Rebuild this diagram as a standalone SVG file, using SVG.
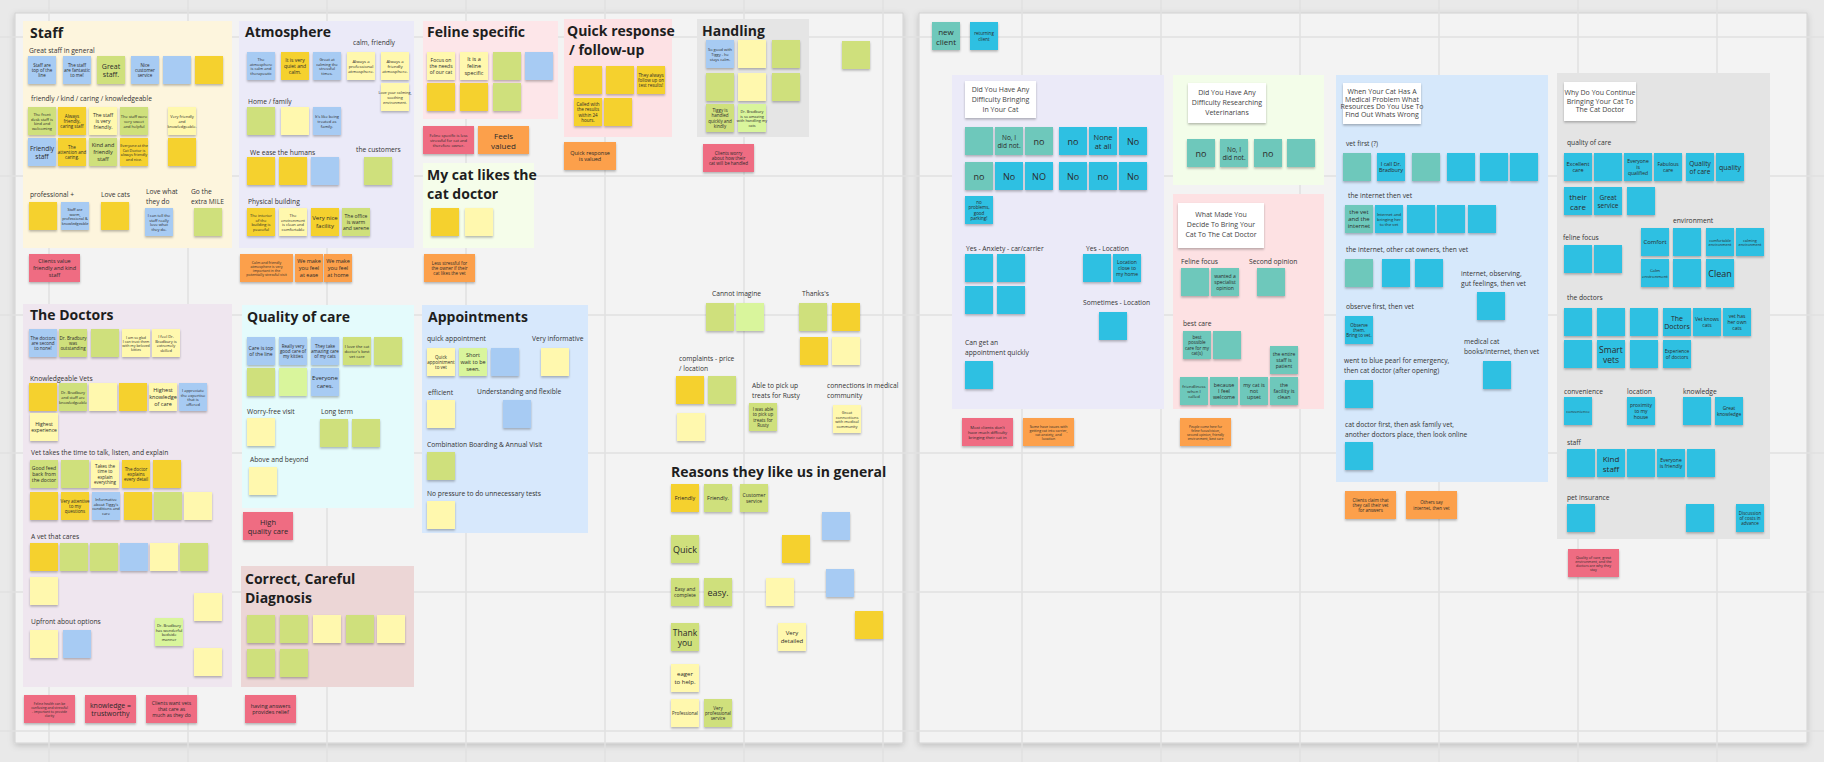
<svg xmlns="http://www.w3.org/2000/svg" width="1824" height="762" viewBox="0 0 1824 762">
<defs>
<filter id="sh" x="-20%" y="-20%" width="140%" height="150%"><feDropShadow dx="0" dy="1.5" stdDeviation="1" flood-color="#000" flood-opacity="0.28"/></filter>
<filter id="fsh" x="-5%" y="-5%" width="110%" height="110%"><feDropShadow dx="0" dy="2" stdDeviation="3" flood-color="#000" flood-opacity="0.18"/></filter>
<style>
.s{filter:url(#sh)}
.y{fill:#fff8ae}.d{fill:#f5d12f}.g{fill:#cfe07c}.l{fill:#d9f59c}.b{fill:#a7cbf3}
.o{fill:#fca04b}.p{fill:#ef6c82}.t{fill:#6ec8bb}.c{fill:#2fc0e2}.w{fill:#ffffff}
text{font-family:"Open Sans","Liberation Sans",sans-serif}
.tt{font-size:14px;font-weight:700;fill:#1e1e1e}
.h{font-size:6.7px;fill:#333}
.n{text-anchor:middle;dominant-baseline:central;fill:#2a2a2a}
.q{text-anchor:middle;font-size:7px;fill:#444}
.grid line{stroke:#e0e0e0;stroke-width:1.5}
</style>
</defs>
<rect width="1824" height="762" fill="#e9e9e9"/>
<g id="boards">
<rect x="15" y="13" width="888" height="730" fill="#f3f3f3" stroke="#d2d2d2" filter="url(#fsh)"/>
<rect x="919" y="13" width="888" height="730" fill="#f3f3f3" stroke="#d2d2d2" filter="url(#fsh)"/>
</g>
<g class="grid">
<line x1="49" y1="0" x2="49" y2="762"/><line x1="188" y1="0" x2="188" y2="762"/><line x1="327" y1="0" x2="327" y2="762"/><line x1="466" y1="0" x2="466" y2="762"/><line x1="605" y1="0" x2="605" y2="762"/><line x1="744" y1="0" x2="744" y2="762"/><line x1="883" y1="0" x2="883" y2="762"/><line x1="1022" y1="0" x2="1022" y2="762"/><line x1="1161" y1="0" x2="1161" y2="762"/><line x1="1300" y1="0" x2="1300" y2="762"/><line x1="1439" y1="0" x2="1439" y2="762"/><line x1="1578" y1="0" x2="1578" y2="762"/><line x1="1717" y1="0" x2="1717" y2="762"/>
<line x1="0" y1="37" x2="1824" y2="37"/><line x1="0" y1="176" x2="1824" y2="176"/><line x1="0" y1="315" x2="1824" y2="315"/><line x1="0" y1="453" x2="1824" y2="453"/><line x1="0" y1="592" x2="1824" y2="592"/><line x1="0" y1="731" x2="1824" y2="731"/>
</g>
<g id="connectors"></g>

<!-- STAFF -->
<g id="staff">
<rect x="23" y="21" width="209" height="227" fill="#fdf5dd"/>
<text class="tt" x="30" y="38">Staff</text>
<text class="h" x="29" y="53">Great staff in general</text>
<rect class="s b" x="28" y="56" width="28" height="28"/><rect class="s b" x="63" y="56" width="28" height="28"/><rect class="s g" x="97" y="56" width="28" height="28"/><rect class="s b" x="131" y="56" width="28" height="28"/><rect class="s b" x="163" y="56" width="28" height="28"/><rect class="s d" x="195" y="56" width="28" height="28"/>
<text class="n" x="42" y="64.6" font-size="4.5"><tspan x="42">Staff are</tspan><tspan x="42" dy="5.4">top of the</tspan><tspan x="42" dy="5.4">line</tspan></text>
<text class="n" x="77" y="64.6" font-size="4.5"><tspan x="77">The staff</tspan><tspan x="77" dy="5.4">are fantastic</tspan><tspan x="77" dy="5.4">to me!</tspan></text>
<text class="n" x="111" y="65.8" font-size="7"><tspan x="111">Great</tspan><tspan x="111" dy="8.4">staff.</tspan></text>
<text class="n" x="145" y="64.6" font-size="4.5"><tspan x="145">Nice</tspan><tspan x="145" dy="5.4">customer</tspan><tspan x="145" dy="5.4">service</tspan></text>
<text class="h" x="31" y="101">friendly / kind / caring / knowledgeable</text>
<rect class="s g" x="28" y="107" width="28" height="28"/><rect class="s d" x="58" y="107" width="28" height="28"/><rect class="s y" x="89" y="107" width="28" height="28"/><rect class="s g" x="120" y="107" width="28" height="28"/><rect class="s y" x="168" y="107" width="28" height="28"/>
<text class="n" x="42" y="113.8" font-size="4"><tspan x="42">The front</tspan><tspan x="42" dy="4.8">desk staff is</tspan><tspan x="42" dy="4.8">kind and</tspan><tspan x="42" dy="4.8">welcoming</tspan></text>
<text class="n" x="72" y="115.6" font-size="4.5"><tspan x="72">Always</tspan><tspan x="72" dy="5.4">friendly,</tspan><tspan x="72" dy="5.4">caring staff</tspan></text>
<text class="n" x="103" y="115" font-size="5"><tspan x="103">The staff</tspan><tspan x="103" dy="6">is very</tspan><tspan x="103" dy="6">friendly.</tspan></text>
<text class="n" x="134" y="116.2" font-size="4"><tspan x="134">The staff were</tspan><tspan x="134" dy="4.8">very sweet</tspan><tspan x="134" dy="4.8">and helpful</tspan></text>
<text class="n" x="182" y="116.2" font-size="4"><tspan x="182">Very friendly</tspan><tspan x="182" dy="4.8">and</tspan><tspan x="182" dy="4.8">knowledgeable.</tspan></text>
<rect class="s b" x="28" y="138" width="28" height="28"/><rect class="s d" x="58" y="138" width="28" height="28"/><rect class="s g" x="89" y="138" width="28" height="28"/><rect class="s d" x="120" y="138" width="28" height="28"/><rect class="s d" x="168" y="138" width="28" height="28"/>
<text class="n" x="42" y="148.1" font-size="6.5"><tspan x="42">Friendly</tspan><tspan x="42" dy="7.8">staff</tspan></text>
<text class="n" x="72" y="146.6" font-size="4.5"><tspan x="72">The</tspan><tspan x="72" dy="5.4">attention and</tspan><tspan x="72" dy="5.4">caring.</tspan></text>
<text class="n" x="103" y="145.4" font-size="5.5"><tspan x="103">Kind and</tspan><tspan x="103" dy="6.6">friendly</tspan><tspan x="103" dy="6.6">staff</tspan></text>
<text class="n" x="134" y="145.1" font-size="3.8"><tspan x="134">Everyone at the</tspan><tspan x="134" dy="4.6">Cat Doctor is</tspan><tspan x="134" dy="4.6">always friendly</tspan><tspan x="134" dy="4.6">and nice.</tspan></text>
<text class="h" x="30" y="197">professional +</text>
<text class="h" x="101" y="197">Love cats</text>
<text class="h" x="146" y="194"><tspan x="146">Love what</tspan><tspan x="146" dy="9.5">they do</tspan></text>
<text class="h" x="191" y="194"><tspan x="191">Go the</tspan><tspan x="191" dy="9.5">extra MILE</tspan></text>
<rect class="s d" x="29" y="202" width="28" height="28"/><rect class="s b" x="61" y="202" width="28" height="28"/><rect class="s d" x="101" y="202" width="28" height="28"/><rect class="s b" x="145" y="208" width="28" height="28"/><rect class="s g" x="194" y="208" width="28" height="28"/>
<text class="n" x="75" y="209.1" font-size="3.8"><tspan x="75">Staff are</tspan><tspan x="75" dy="4.6">warm,</tspan><tspan x="75" dy="4.6">professional &amp;</tspan><tspan x="75" dy="4.6">knowledgeable</tspan></text>
<text class="n" x="159" y="214.8" font-size="4"><tspan x="159">I can tell the</tspan><tspan x="159" dy="4.8">staff really</tspan><tspan x="159" dy="4.8">love what</tspan><tspan x="159" dy="4.8">they do.</tspan></text>
<rect class="s p" x="29" y="254" width="51" height="28"/>
<text class="n" x="54.5" y="261.4" font-size="5.5"><tspan x="54.5">Clients value</tspan><tspan x="54.5" dy="6.6">friendly and kind</tspan><tspan x="54.5" dy="6.6">staff</tspan></text>
</g>

<!-- ATMOSPHERE -->
<g id="atmosphere">
<rect x="239" y="21" width="175" height="227" fill="#ebeaf8"/>
<text class="tt" x="245" y="37">Atmosphere</text>
<text class="h" x="353" y="45">calm, friendly</text>
<rect class="s b" x="247" y="52" width="28" height="28"/><rect class="s d" x="281" y="52" width="28" height="28"/><rect class="s b" x="313" y="52" width="28" height="28"/><rect class="s y" x="347" y="52" width="28" height="28"/><rect class="s y" x="381" y="52" width="28" height="28"/><rect class="s y" x="381" y="83" width="28" height="28"/>
<text class="n" x="261" y="58.8" font-size="4"><tspan x="261">The</tspan><tspan x="261" dy="4.8">atmosphere</tspan><tspan x="261" dy="4.8">is calm and</tspan><tspan x="261" dy="4.8">therapeutic</tspan></text>
<text class="n" x="295" y="60" font-size="5"><tspan x="295">It is very</tspan><tspan x="295" dy="6">quiet and</tspan><tspan x="295" dy="6">calm.</tspan></text>
<text class="n" x="327" y="58.8" font-size="4"><tspan x="327">Great at</tspan><tspan x="327" dy="4.8">calming the</tspan><tspan x="327" dy="4.8">stressful</tspan><tspan x="327" dy="4.8">times.</tspan></text>
<text class="n" x="361" y="60.6" font-size="4.3"><tspan x="361">Always a</tspan><tspan x="361" dy="5.4">professional</tspan><tspan x="361" dy="5.4">atmosphere.</tspan></text>
<text class="n" x="395" y="60.6" font-size="4.3"><tspan x="395">Always a</tspan><tspan x="395" dy="5.4">friendly</tspan><tspan x="395" dy="5.4">atmosphere.</tspan></text>
<text class="n" x="395" y="92.4" font-size="3.8"><tspan x="395">Love your calming,</tspan><tspan x="395" dy="4.6">soothing</tspan><tspan x="395" dy="4.6">environment.</tspan></text>
<text class="h" x="248" y="104">Home / family</text>
<rect class="s g" x="247" y="107" width="28" height="28"/><rect class="s y" x="281" y="107" width="28" height="28"/><rect class="s b" x="313" y="107" width="28" height="28"/>
<text class="n" x="327" y="116.2" font-size="4"><tspan x="327">It's like being</tspan><tspan x="327" dy="4.8">treated as</tspan><tspan x="327" dy="4.8">family.</tspan></text>
<text class="h" x="250" y="155">We ease the humans</text>
<text class="h" x="356" y="152">the customers</text>
<rect class="s d" x="247" y="157" width="28" height="28"/><rect class="s d" x="279" y="157" width="28" height="28"/><rect class="s b" x="311" y="157" width="28" height="28"/><rect class="s g" x="364" y="157" width="28" height="28"/>
<text class="h" x="248" y="204">Physical building</text>
<rect class="s d" x="247" y="208" width="28" height="28"/><rect class="s y" x="279" y="208" width="28" height="28"/><rect class="s d" x="311" y="208" width="28" height="28"/><rect class="s g" x="342" y="208" width="28" height="28"/>
<text class="n" x="261" y="214.8" font-size="4"><tspan x="261">The interior</tspan><tspan x="261" dy="4.8">of the</tspan><tspan x="261" dy="4.8">building is</tspan><tspan x="261" dy="4.8">peaceful</tspan></text>
<text class="n" x="293" y="214.8" font-size="4"><tspan x="293">The</tspan><tspan x="293" dy="4.8">environment</tspan><tspan x="293" dy="4.8">is clean and</tspan><tspan x="293" dy="4.8">comfortable</tspan></text>
<text class="n" x="325" y="218.4" font-size="6"><tspan x="325">Very nice</tspan><tspan x="325" dy="7.2">facility</tspan></text>
<text class="n" x="356" y="216" font-size="5"><tspan x="356">The office</tspan><tspan x="356" dy="6">is warm</tspan><tspan x="356" dy="6">and serene</tspan></text>
<rect class="s o" x="240" y="254" width="53" height="28"/><rect class="s o" x="295" y="254" width="28" height="28"/><rect class="s o" x="324" y="254" width="28" height="28"/>
<text class="n" x="266.5" y="261.55" font-size="3.6"><tspan x="266.5">Calm and friendly</tspan><tspan x="266.5" dy="4.3">atmosphere is very</tspan><tspan x="266.5" dy="4.3">important in the</tspan><tspan x="266.5" dy="4.3">potentially stressful visit</tspan></text>
<text class="n" x="309" y="261.4" font-size="5.5"><tspan x="309">We make</tspan><tspan x="309" dy="6.6">you feel</tspan><tspan x="309" dy="6.6">at ease</tspan></text>
<text class="n" x="338" y="261.4" font-size="5.5"><tspan x="338">We make</tspan><tspan x="338" dy="6.6">you feel</tspan><tspan x="338" dy="6.6">at home</tspan></text>
</g>

<!-- FELINE SPECIFIC -->
<g id="feline-specific">
<rect x="423" y="21" width="135" height="98" fill="#fde6e9"/>
<text class="tt" x="427" y="37">Feline specific</text>
<rect class="s y" x="427" y="52" width="28" height="28"/><rect class="s y" x="460" y="52" width="28" height="28"/><rect class="s g" x="493" y="52" width="28" height="28"/><rect class="s b" x="525" y="52" width="28" height="28"/>
<rect class="s d" x="427" y="83" width="28" height="28"/><rect class="s d" x="460" y="83" width="28" height="28"/><rect class="s g" x="493" y="83" width="28" height="28"/>
<text class="n" x="441" y="60" font-size="5"><tspan x="441">Focus on</tspan><tspan x="441" dy="6">the needs</tspan><tspan x="441" dy="6">of our cat</tspan></text>
<text class="n" x="474" y="59.4" font-size="5.5"><tspan x="474">It is a</tspan><tspan x="474" dy="6.6">feline</tspan><tspan x="474" dy="6.6">specific</tspan></text>
<rect class="s p" x="423" y="126" width="51" height="28"/><rect class="s o" x="478" y="126" width="51" height="28"/>
<text class="n" x="448.5" y="135.2" font-size="4"><tspan x="448.5">Feline specific is less</tspan><tspan x="448.5" dy="4.8">stressful for cat and</tspan><tspan x="448.5" dy="4.8">therefore owner.</tspan></text>
<text class="n" x="503.5" y="135.2" font-size="8"><tspan x="503.5">Feels</tspan><tspan x="503.5" dy="9.6">valued</tspan></text>
</g>

<!-- MY CAT LIKES -->
<g id="my-cat-likes">
<rect x="423" y="163" width="111" height="85" fill="#f5fdea"/>
<text class="tt" x="427" y="180"><tspan x="427">My cat likes the</tspan><tspan x="427" dy="19">cat doctor</tspan></text>
<rect class="s d" x="431" y="208" width="28" height="28"/><rect class="s y" x="465" y="208" width="28" height="28"/>
<rect class="s o" x="424" y="254" width="51" height="28"/>
<text class="n" x="449.5" y="262.6" font-size="4.5"><tspan x="449.5">Less stressful for</tspan><tspan x="449.5" dy="5.4">the owner if their</tspan><tspan x="449.5" dy="5.4">cat likes the vet</tspan></text>
</g>

<!-- QUICK RESPONSE -->
<g id="quick-response">
<rect x="564" y="19" width="108" height="118" fill="#fde1e4"/>
<text class="tt" x="567" y="36">Quick response</text>
<text class="tt" x="569" y="55">/ follow-up</text>
<rect class="s d" x="574" y="66" width="28" height="28"/><rect class="s d" x="606" y="66" width="28" height="28"/><rect class="s d" x="637" y="66" width="28" height="28"/>
<rect class="s d" x="574" y="98" width="28" height="28"/><rect class="s d" x="604" y="98" width="28" height="28"/>
<text class="n" x="651" y="74.6" font-size="4.5"><tspan x="651">They always</tspan><tspan x="651" dy="5.4">follow up on</tspan><tspan x="651" dy="5.4">test results!</tspan></text>
<text class="n" x="588" y="103.9" font-size="4.5"><tspan x="588">Called with</tspan><tspan x="588" dy="5.4">the results</tspan><tspan x="588" dy="5.4">within 24</tspan><tspan x="588" dy="5.4">hours.</tspan></text>
<rect class="s o" x="564" y="142" width="52" height="28"/>
<text class="n" x="590" y="152.7" font-size="5.5"><tspan x="590">Quick response</tspan><tspan x="590" dy="6.6">is valued</tspan></text>
</g>

<!-- HANDLING -->
<g id="handling">
<rect x="697" y="19" width="112" height="118" fill="#e5e5e5"/>
<text class="tt" x="702" y="36">Handling</text>
<rect class="s b" x="706" y="40" width="28" height="28"/><rect class="s y" x="738" y="40" width="28" height="28"/><rect class="s g" x="772" y="40" width="28" height="28"/>
<rect class="s g" x="706" y="73" width="28" height="28"/><rect class="s y" x="738" y="73" width="28" height="28"/><rect class="s g" x="772" y="73" width="28" height="28"/>
<rect class="s g" x="706" y="104" width="28" height="28"/><rect class="s l" x="738" y="104" width="28" height="28"/>
<text class="n" x="720" y="49.2" font-size="4"><tspan x="720">So good with</tspan><tspan x="720" dy="4.8">Tiggy - he</tspan><tspan x="720" dy="4.8">stays calm.</tspan></text>
<text class="n" x="720" y="109.9" font-size="4.5"><tspan x="720">Tiggy is</tspan><tspan x="720" dy="5.4">handled</tspan><tspan x="720" dy="5.4">quickly and</tspan><tspan x="720" dy="5.4">kindly</tspan></text>
<text class="n" x="752" y="111.1" font-size="3.8"><tspan x="752">Dr. Bradbury</tspan><tspan x="752" dy="4.6">is so amazing</tspan><tspan x="752" dy="4.6">with handling my</tspan><tspan x="752" dy="4.6">cats</tspan></text>
<rect class="s p" x="703" y="144" width="51" height="28"/>
<text class="n" x="728.5" y="152.6" font-size="4.5"><tspan x="728.5">Clients worry</tspan><tspan x="728.5" dy="5.4">about how their</tspan><tspan x="728.5" dy="5.4">cat will be handled</tspan></text>
<rect class="s g" x="842" y="41" width="28" height="28"/>
</g>

<!-- THE DOCTORS -->
<g id="the-doctors">
<rect x="23" y="304" width="209" height="383" fill="#efe6ef"/>
<text class="tt" x="30" y="320">The Doctors</text>
<rect class="s b" x="29" y="329" width="28" height="28"/><rect class="s g" x="59" y="329" width="28" height="28"/><rect class="s g" x="91" y="329" width="28" height="28"/><rect class="s y" x="122" y="329" width="28" height="28"/><rect class="s y" x="152" y="329" width="28" height="28"/>
<text class="n" x="43" y="337.6" font-size="4.5"><tspan x="43">The doctors</tspan><tspan x="43" dy="5.4">are second</tspan><tspan x="43" dy="5.4">to none!</tspan></text>
<text class="n" x="73" y="337.6" font-size="4.5"><tspan x="73">Dr. Bradbury</tspan><tspan x="73" dy="5.4">was</tspan><tspan x="73" dy="5.4">outstanding</tspan></text>
<text class="n" x="136" y="336.55" font-size="3.6"><tspan x="136">I am so glad</tspan><tspan x="136" dy="4.3">I can trust them</tspan><tspan x="136" dy="4.3">with my beloved</tspan><tspan x="136" dy="4.3">kitties</tspan></text>
<text class="n" x="166" y="335.8" font-size="4"><tspan x="166">I feel Dr.</tspan><tspan x="166" dy="4.8">Bradbury is</tspan><tspan x="166" dy="4.8">extremely</tspan><tspan x="166" dy="4.8">skilled</tspan></text>
<text class="h" x="30" y="381">Knowledgeable Vets</text>
<rect class="s d" x="29" y="383" width="28" height="28"/><rect class="s g" x="59" y="383" width="28" height="28"/><rect class="s y" x="89" y="383" width="28" height="28"/><rect class="s d" x="119" y="383" width="28" height="28"/><rect class="s y" x="149" y="383" width="28" height="28"/><rect class="s b" x="179" y="383" width="28" height="28"/>
<text class="n" x="73" y="392.2" font-size="4"><tspan x="73">Dr. Bradbury</tspan><tspan x="73" dy="4.8">and staff are</tspan><tspan x="73" dy="4.8">knowledgeable</tspan></text>
<text class="n" x="163" y="390.4" font-size="5.5"><tspan x="163">Highest</tspan><tspan x="163" dy="6.6">knowledge</tspan><tspan x="163" dy="6.6">of care</tspan></text>
<text class="n" x="193" y="389.8" font-size="4"><tspan x="193">I appreciate</tspan><tspan x="193" dy="4.8">the expertise</tspan><tspan x="193" dy="4.8">that is</tspan><tspan x="193" dy="4.8">offered</tspan></text>
<rect class="s y" x="30" y="413" width="28" height="28"/>
<text class="n" x="44" y="424" font-size="5"><tspan x="44">Highest</tspan><tspan x="44" dy="6">experience</tspan></text>
<text class="h" x="31" y="455">Vet takes the time to talk, listen, and explain</text>
<rect class="s g" x="30" y="460" width="28" height="28"/><rect class="s g" x="61" y="460" width="28" height="28"/><rect class="s y" x="91" y="460" width="28" height="28"/><rect class="s d" x="122" y="460" width="28" height="28"/><rect class="s d" x="153" y="460" width="28" height="28"/>
<text class="n" x="44" y="468" font-size="5"><tspan x="44">Good feed</tspan><tspan x="44" dy="6">back from</tspan><tspan x="44" dy="6">the doctor</tspan></text>
<text class="n" x="105" y="465.9" font-size="4.5"><tspan x="105">Takes the</tspan><tspan x="105" dy="5.4">time to</tspan><tspan x="105" dy="5.4">explain</tspan><tspan x="105" dy="5.4">everything</tspan></text>
<text class="n" x="136" y="468.6" font-size="4.5"><tspan x="136">The doctor</tspan><tspan x="136" dy="5.4">explains</tspan><tspan x="136" dy="5.4">every detail</tspan></text>
<rect class="s d" x="30" y="492" width="28" height="28"/><rect class="s d" x="61" y="492" width="28" height="28"/><rect class="s b" x="92" y="492" width="28" height="28"/><rect class="s d" x="124" y="492" width="28" height="28"/><rect class="s g" x="154" y="492" width="28" height="28"/><rect class="s y" x="184" y="492" width="28" height="28"/>
<text class="n" x="75" y="500.6" font-size="4.5"><tspan x="75">Very attentive</tspan><tspan x="75" dy="5.4">to my</tspan><tspan x="75" dy="5.4">questions</tspan></text>
<text class="n" x="106" y="498.8" font-size="4"><tspan x="106">Informative</tspan><tspan x="106" dy="4.8">about Tiggy's</tspan><tspan x="106" dy="4.8">conditions and</tspan><tspan x="106" dy="4.8">care</tspan></text>
<text class="h" x="31" y="539">A vet that cares</text>
<rect class="s d" x="30" y="543" width="28" height="28"/><rect class="s g" x="60" y="543" width="28" height="28"/><rect class="s g" x="90" y="543" width="28" height="28"/><rect class="s b" x="120" y="543" width="28" height="28"/><rect class="s y" x="150" y="543" width="28" height="28"/><rect class="s g" x="180" y="543" width="28" height="28"/>
<rect class="s y" x="30" y="577" width="28" height="28"/><rect class="s y" x="194" y="593" width="28" height="28"/>
<text class="h" x="31" y="624">Upfront about options</text>
<rect class="s y" x="30" y="630" width="28" height="28"/><rect class="s b" x="63" y="630" width="28" height="28"/><rect class="s l" x="155" y="618" width="28" height="28"/><rect class="s y" x="194" y="648" width="28" height="28"/>
<text class="n" x="169" y="624.8" font-size="4"><tspan x="169">Dr. Bradbury</tspan><tspan x="169" dy="4.8">has wonderful</tspan><tspan x="169" dy="4.8">bedside</tspan><tspan x="169" dy="4.8">manner</tspan></text>
<rect class="s p" x="24" y="695" width="51" height="28"/><rect class="s p" x="85" y="695" width="51" height="28"/><rect class="s p" x="146" y="695" width="51" height="28"/>
<text class="n" x="49.5" y="702.85" font-size="3.4"><tspan x="49.5">Feline health can be</tspan><tspan x="49.5" dy="4.1">confusing and stressful</tspan><tspan x="49.5" dy="4.1">- important to provide</tspan><tspan x="49.5" dy="4.1">clarity</tspan></text>
<text class="n" x="110.5" y="704.8" font-size="7"><tspan x="110.5">knowledge =</tspan><tspan x="110.5" dy="8.4">trustworthy</tspan></text>
<text class="n" x="171.5" y="703" font-size="5"><tspan x="171.5">Clients want vets</tspan><tspan x="171.5" dy="6">that care as</tspan><tspan x="171.5" dy="6">much as they do</tspan></text>
</g>

<!-- QUALITY OF CARE -->
<g id="quality-of-care">
<rect x="242" y="305" width="172" height="203" fill="#e4fbfc"/>
<text class="tt" x="247" y="322">Quality of care</text>
<rect class="s b" x="247" y="337" width="28" height="28"/><rect class="s b" x="279" y="337" width="28" height="28"/><rect class="s b" x="311" y="337" width="28" height="28"/><rect class="s g" x="343" y="337" width="28" height="28"/><rect class="s g" x="374" y="337" width="28" height="28"/>
<text class="n" x="261" y="348" font-size="5"><tspan x="261">Care is top</tspan><tspan x="261" dy="6">of the line</tspan></text>
<text class="n" x="293" y="345.6" font-size="4.5"><tspan x="293">Really very</tspan><tspan x="293" dy="5.4">good care of</tspan><tspan x="293" dy="5.4">my kitties</tspan></text>
<text class="n" x="325" y="345.6" font-size="4.5"><tspan x="325">They take</tspan><tspan x="325" dy="5.4">amazing care</tspan><tspan x="325" dy="5.4">of my cats</tspan></text>
<text class="n" x="357" y="346" font-size="4.2"><tspan x="357">I love the cat</tspan><tspan x="357" dy="5">doctor's best</tspan><tspan x="357" dy="5">vet care</tspan></text>
<rect class="s g" x="247" y="368" width="28" height="28"/><rect class="s l" x="279" y="368" width="28" height="28"/><rect class="s b" x="311" y="368" width="28" height="28"/>
<text class="n" x="325" y="378.4" font-size="6"><tspan x="325">Everyone</tspan><tspan x="325" dy="7.2">cares.</tspan></text>
<text class="h" x="247" y="414">Worry-free visit</text>
<text class="h" x="321" y="414">Long term</text>
<rect class="s y" x="247" y="418" width="28" height="28"/><rect class="s g" x="320" y="419" width="28" height="28"/><rect class="s g" x="352" y="419" width="28" height="28"/>
<text class="h" x="250" y="462">Above and beyond</text>
<rect class="s y" x="249" y="467" width="28" height="28"/>
<rect class="s p" x="243" y="512" width="50" height="28"/>
<text class="n" x="268" y="521.5" font-size="7.5"><tspan x="268">High</tspan><tspan x="268" dy="9">quality care</tspan></text>
</g>

<!-- APPOINTMENTS -->
<g id="appointments">
<rect x="422" y="305" width="166" height="228" fill="#d7e8fc"/>
<text class="tt" x="428" y="322">Appointments</text>
<text class="h" x="427" y="341">quick appointment</text>
<text class="h" x="532" y="341">Very informative</text>
<rect class="s y" x="427" y="348" width="28" height="28"/><rect class="s l" x="459" y="348" width="28" height="28"/><rect class="s b" x="491" y="348" width="28" height="28"/><rect class="s y" x="541" y="348" width="28" height="28"/>
<text class="n" x="441" y="356.6" font-size="4.5"><tspan x="441">Quick</tspan><tspan x="441" dy="5.4">appointment</tspan><tspan x="441" dy="5.4">to vet</tspan></text>
<text class="n" x="473" y="355.4" font-size="5.5"><tspan x="473">Short</tspan><tspan x="473" dy="6.6">wait to be</tspan><tspan x="473" dy="6.6">seen.</tspan></text>
<text class="h" x="428" y="395">efficient</text>
<text class="h" x="477" y="394">Understanding and flexible</text>
<rect class="s y" x="427" y="400" width="28" height="28"/><rect class="s b" x="503" y="400" width="28" height="28"/>
<text class="h" x="427" y="447">Combination Boarding &amp; Annual Visit</text>
<rect class="s g" x="427" y="452" width="28" height="28"/>
<text class="h" x="427" y="496">No pressure to do unnecessary tests</text>
<rect class="s y" x="427" y="501" width="28" height="28"/>
</g>

<!-- CORRECT CAREFUL DIAGNOSIS -->
<g id="diagnosis">
<rect x="241" y="566" width="173" height="121" fill="#ecd6d6"/>
<text class="tt" x="245" y="584"><tspan x="245">Correct, Careful</tspan><tspan x="245" dy="19">Diagnosis</tspan></text>
<rect class="s g" x="247" y="615" width="28" height="28"/><rect class="s g" x="280" y="615" width="28" height="28"/><rect class="s y" x="313" y="615" width="28" height="28"/><rect class="s g" x="346" y="615" width="28" height="28"/><rect class="s y" x="377" y="615" width="28" height="28"/>
<rect class="s g" x="247" y="649" width="28" height="28"/><rect class="s g" x="280" y="649" width="28" height="28"/>
<rect class="s p" x="245" y="695" width="51" height="28"/>
<text class="n" x="270.5" y="705.7" font-size="5.5"><tspan x="270.5">having answers</tspan><tspan x="270.5" dy="6.6">provides relief</tspan></text>
</g>

<!-- MISC MIDDLE -->
<g id="cannot-imagine">
<text class="h" x="712" y="296">Cannot imagine</text>
<rect class="s g" x="706" y="303" width="28" height="28"/><rect class="s l" x="736" y="303" width="28" height="28"/>
</g>
<g id="thanks">
<text class="h" x="802" y="296">Thanks's</text>
<rect class="s g" x="799" y="303" width="28" height="28"/><rect class="s d" x="832" y="303" width="28" height="28"/><rect class="s d" x="800" y="337" width="28" height="28"/><rect class="s y" x="832" y="337" width="28" height="28"/>
</g>
<g id="complaints">
<text class="h" x="679" y="361"><tspan x="679">complaints - price</tspan><tspan x="679" dy="9.5">/ location</tspan></text>
<rect class="s d" x="676" y="376" width="28" height="28"/><rect class="s g" x="708" y="376" width="28" height="28"/><rect class="s y" x="677" y="413" width="28" height="28"/>
</g>
<g id="treats">
<text class="h" x="752" y="388"><tspan x="752">Able to pick up</tspan><tspan x="752" dy="9.5">treats for Rusty</tspan></text>
<rect class="s g" x="749" y="403" width="28" height="28"/>
<text class="n" x="763" y="408.9" font-size="4.5"><tspan x="763">I was able</tspan><tspan x="763" dy="5.4">to pick up</tspan><tspan x="763" dy="5.4">treats for</tspan><tspan x="763" dy="5.4">Rusty</tspan></text>
</g>
<g id="connections">
<text class="h" x="827" y="388"><tspan x="827">connections in medical</tspan><tspan x="827" dy="9.5">community</tspan></text>
<rect class="s y" x="833" y="405" width="28" height="28"/>
<text class="n" x="847" y="411.8" font-size="4"><tspan x="847">Great</tspan><tspan x="847" dy="4.8">connections</tspan><tspan x="847" dy="4.8">with medical</tspan><tspan x="847" dy="4.8">community</tspan></text>
</g>
<g id="reasons">
<text class="tt" x="671" y="477">Reasons they like us in general</text>
<rect class="s d" x="671" y="484" width="28" height="28"/><rect class="s g" x="704" y="484" width="28" height="28"/><rect class="s g" x="740" y="484" width="28" height="28"/>
<text class="n" x="685" y="498" font-size="5.5">Friendly</text>
<text class="n" x="718" y="498" font-size="5.5">Friendly.</text>
<text class="n" x="754" y="495" font-size="5"><tspan x="754">Customer</tspan><tspan x="754" dy="6">service</tspan></text>
<rect class="s b" x="822" y="512" width="28" height="28"/>
<rect class="s g" x="671" y="535" width="28" height="28"/><rect class="s d" x="782" y="535" width="28" height="28"/>
<text class="n" x="685" y="549" font-size="9">Quick</text>
<rect class="s b" x="826" y="569" width="28" height="28"/>
<rect class="s g" x="671" y="578" width="28" height="28"/><rect class="s g" x="704" y="578" width="28" height="28"/><rect class="s y" x="766" y="578" width="28" height="28"/>
<text class="n" x="685" y="589" font-size="5"><tspan x="685">Easy and</tspan><tspan x="685" dy="6">complete</tspan></text>
<text class="n" x="718" y="592" font-size="9">easy.</text>
<rect class="s d" x="855" y="611" width="28" height="28"/>
<rect class="s g" x="671" y="623" width="28" height="28"/><rect class="s y" x="778" y="623" width="28" height="28"/>
<text class="n" x="685" y="631.9" font-size="8.5"><tspan x="685">Thank</tspan><tspan x="685" dy="10.2">you</tspan></text>
<text class="n" x="792" y="633.4" font-size="6"><tspan x="792">Very</tspan><tspan x="792" dy="7.2">detailed</tspan></text>
<rect class="s y" x="671" y="664" width="28" height="28"/>
<text class="n" x="685" y="674.4" font-size="6"><tspan x="685">eager</tspan><tspan x="685" dy="7.2">to help.</tspan></text>
<rect class="s y" x="671" y="699" width="28" height="28"/><rect class="s g" x="704" y="699" width="28" height="28"/>
<text class="n" x="685" y="713" font-size="4.5">Professional</text>
<text class="n" x="718" y="707.6" font-size="4.5"><tspan x="718">Very</tspan><tspan x="718" dy="5.4">professional</tspan><tspan x="718" dy="5.4">service</tspan></text>
</g>

<!-- RIGHT BOARD -->
<g id="legend">
<rect class="s t" x="932" y="22" width="28" height="28"/><rect class="s c" x="970" y="22" width="28" height="28"/>
<text class="n" x="946" y="31.2" font-size="8"><tspan x="946">new</tspan><tspan x="946" dy="9.6">client</tspan></text>
<text class="n" x="984" y="33.3" font-size="4.5"><tspan x="984">returning</tspan><tspan x="984" dy="5.4">client</tspan></text>
</g>

<g id="difficulty-bringing">
<rect x="952" y="75" width="212" height="334" fill="#ebeaf8"/>
<rect class="s w" x="965" y="81" width="71" height="37"/>
<text class="q" x="1000.5" y="92"><tspan x="1000.5">Did You Have Any</tspan><tspan x="1000.5" dy="10">Difficulty Bringing</tspan><tspan x="1000.5" dy="10">In Your Cat</tspan></text>
<rect class="s t" x="965" y="127" width="28" height="28"/><rect class="s t" x="995" y="127" width="28" height="28"/><rect class="s t" x="1025" y="127" width="28" height="28"/><rect class="s c" x="1059" y="127" width="28" height="28"/><rect class="s c" x="1089" y="127" width="28" height="28"/><rect class="s c" x="1119" y="127" width="28" height="28"/>
<text class="n" x="1009" y="137.1" font-size="6.5"><tspan x="1009">No, I</tspan><tspan x="1009" dy="7.8">did not.</tspan></text>
<text class="n" x="1039" y="141" font-size="9">no</text>
<text class="n" x="1073" y="141" font-size="9">no</text>
<text class="n" x="1103" y="136.5" font-size="7.5"><tspan x="1103">None</tspan><tspan x="1103" dy="9">at all</tspan></text>
<text class="n" x="1133" y="141" font-size="9">No</text>
<rect class="s t" x="965" y="162" width="28" height="28"/><rect class="s c" x="995" y="162" width="28" height="28"/><rect class="s c" x="1025" y="162" width="28" height="28"/><rect class="s c" x="1059" y="162" width="28" height="28"/><rect class="s c" x="1089" y="162" width="28" height="28"/><rect class="s c" x="1119" y="162" width="28" height="28"/>
<text class="n" x="979" y="176" font-size="9">no</text>
<text class="n" x="1009" y="176" font-size="9">No</text>
<text class="n" x="1039" y="176" font-size="9">NO</text>
<text class="n" x="1073" y="176" font-size="9">No</text>
<text class="n" x="1103" y="176" font-size="9">no</text>
<text class="n" x="1133" y="176" font-size="9">No</text>
<rect class="s c" x="965" y="196" width="28" height="28"/>
<text class="n" x="979" y="201.9" font-size="4.5"><tspan x="979">no</tspan><tspan x="979" dy="5.4">problems,</tspan><tspan x="979" dy="5.4">good</tspan><tspan x="979" dy="5.4">parking!</tspan></text>
<text class="h" x="966" y="251">Yes - Anxiety - car/carrier</text>
<text class="h" x="1086" y="251">Yes - Location</text>
<rect class="s c" x="965" y="254" width="28" height="28"/><rect class="s c" x="997" y="254" width="28" height="28"/><rect class="s c" x="965" y="286" width="28" height="28"/><rect class="s c" x="997" y="286" width="28" height="28"/>
<rect class="s c" x="1083" y="254" width="28" height="28"/><rect class="s c" x="1113" y="254" width="28" height="28"/>
<text class="n" x="1127" y="262" font-size="5"><tspan x="1127">Location</tspan><tspan x="1127" dy="6">close to</tspan><tspan x="1127" dy="6">my home</tspan></text>
<text class="h" x="1083" y="305">Sometimes - Location</text>
<rect class="s c" x="1099" y="312" width="28" height="28"/>
<text class="h" x="965" y="345"><tspan x="965">Can get an</tspan><tspan x="965" dy="9.5">appointment quickly</tspan></text>
<rect class="s c" x="965" y="361" width="28" height="28"/>
<rect class="s p" x="962" y="418" width="51" height="28"/><rect class="s o" x="1023" y="418" width="51" height="28"/>
<text class="n" x="987.5" y="427" font-size="4.2"><tspan x="987.5">Most clients don't</tspan><tspan x="987.5" dy="5">have much difficulty</tspan><tspan x="987.5" dy="5">bringing their cat in</tspan></text>
<text class="n" x="1048.5" y="425.55" font-size="3.6"><tspan x="1048.5">Some have issues with</tspan><tspan x="1048.5" dy="4.3">getting cat into carrier,</tspan><tspan x="1048.5" dy="4.3">cat anxiety, and</tspan><tspan x="1048.5" dy="4.3">location</tspan></text>
</g>

<g id="difficulty-researching">
<rect x="1173" y="75" width="151" height="110" fill="#f3fde9"/>
<rect class="s w" x="1188" y="83" width="78" height="40"/>
<text class="q" x="1227" y="95"><tspan x="1227">Did You Have Any</tspan><tspan x="1227" dy="10">Difficulty Researching</tspan><tspan x="1227" dy="10">Veterinarians</tspan></text>
<rect class="s t" x="1187" y="139" width="28" height="28"/><rect class="s t" x="1220" y="139" width="28" height="28"/><rect class="s t" x="1254" y="139" width="28" height="28"/><rect class="s t" x="1287" y="139" width="28" height="28"/>
<text class="n" x="1201" y="153" font-size="9">no</text>
<text class="n" x="1234" y="149.1" font-size="6.5"><tspan x="1234">No, I</tspan><tspan x="1234" dy="7.8">did not.</tspan></text>
<text class="n" x="1268" y="153" font-size="9">no</text>
</g>

<g id="what-made-you-decide">
<rect x="1173" y="194" width="151" height="215" fill="#fde1e3"/>
<rect class="s w" x="1178" y="203" width="86" height="45"/>
<text class="q" x="1221" y="217" font-size="7.5"><tspan x="1221">What Made You</tspan><tspan x="1221" dy="10">Decide To Bring Your</tspan><tspan x="1221" dy="10">Cat To The Cat Doctor</tspan></text>
<text class="h" x="1181" y="264">Feline focus</text>
<text class="h" x="1249" y="264">Second opinion</text>
<rect class="s t" x="1181" y="268" width="28" height="28"/><rect class="s t" x="1211" y="268" width="28" height="28"/><rect class="s t" x="1257" y="268" width="28" height="28"/>
<text class="n" x="1225" y="276" font-size="5"><tspan x="1225">wanted a</tspan><tspan x="1225" dy="6">specialist</tspan><tspan x="1225" dy="6">opinion</tspan></text>
<text class="h" x="1183" y="326">best care</text>
<rect class="s t" x="1183" y="331" width="28" height="28"/><rect class="s t" x="1213" y="331" width="28" height="28"/><rect class="s t" x="1270" y="346" width="28" height="28"/>
<text class="n" x="1197" y="336.9" font-size="4.5"><tspan x="1197">best</tspan><tspan x="1197" dy="5.4">possible</tspan><tspan x="1197" dy="5.4">care for my</tspan><tspan x="1197" dy="5.4">cat(s)</tspan></text>
<text class="n" x="1284" y="354" font-size="5"><tspan x="1284">the entire</tspan><tspan x="1284" dy="6">staff is</tspan><tspan x="1284" dy="6">patient</tspan></text>
<rect class="s t" x="1180" y="377" width="28" height="28"/><rect class="s t" x="1210" y="377" width="28" height="28"/><rect class="s t" x="1240" y="377" width="28" height="28"/><rect class="s t" x="1270" y="377" width="28" height="28"/>
<text class="n" x="1194" y="385.8" font-size="4.3"><tspan x="1194">friendliness</tspan><tspan x="1194" dy="5.2">when I</tspan><tspan x="1194" dy="5.2">called</tspan></text>
<text class="n" x="1224" y="384.6" font-size="5.3"><tspan x="1224">because</tspan><tspan x="1224" dy="6.4">I feel</tspan><tspan x="1224" dy="6.4">welcome</tspan></text>
<text class="n" x="1254" y="384.6" font-size="5.3"><tspan x="1254">my cat is</tspan><tspan x="1254" dy="6.4">not</tspan><tspan x="1254" dy="6.4">upset</tspan></text>
<text class="n" x="1284" y="384.6" font-size="5.3"><tspan x="1284">the</tspan><tspan x="1284" dy="6.4">facility is</tspan><tspan x="1284" dy="6.4">clean</tspan></text>
<rect class="s o" x="1180" y="418" width="51" height="28"/>
<text class="n" x="1205.5" y="426" font-size="3.3"><tspan x="1205.5">People come here for</tspan><tspan x="1205.5" dy="4">feline focus/vision,</tspan><tspan x="1205.5" dy="4">second opinion, friendly</tspan><tspan x="1205.5" dy="4">environment, best care</tspan></text>
</g>

<g id="medical-problem-resources">
<rect x="1336" y="75" width="212" height="407" fill="#d6e8fb"/>
<rect class="s w" x="1343" y="83" width="78" height="41"/>
<text class="q" x="1382" y="94" font-size="5.6"><tspan x="1382">When Your Cat Has A</tspan><tspan x="1382" dy="7.6">Medical Problem What</tspan><tspan x="1382" dy="7.6">Resources Do You Use To</tspan><tspan x="1382" dy="7.6">Find Out Whats Wrong</tspan></text>
<text class="h" x="1346" y="146">vet first (?)</text>
<rect class="s t" x="1343" y="153" width="28" height="28"/><rect class="s c" x="1377" y="153" width="28" height="28"/><rect class="s t" x="1412" y="153" width="28" height="28"/><rect class="s c" x="1447" y="153" width="28" height="28"/><rect class="s c" x="1480" y="153" width="28" height="28"/><rect class="s c" x="1510" y="153" width="28" height="28"/>
<text class="n" x="1391" y="163.7" font-size="5.5"><tspan x="1391">I call Dr.</tspan><tspan x="1391" dy="6.6">Bradbury</tspan></text>
<text class="h" x="1348" y="198">the internet then vet</text>
<rect class="s t" x="1345" y="205" width="28" height="28"/><rect class="s c" x="1375" y="205" width="28" height="28"/><rect class="s c" x="1407" y="205" width="28" height="28"/><rect class="s c" x="1437" y="205" width="28" height="28"/><rect class="s c" x="1468" y="205" width="28" height="28"/>
<text class="n" x="1359" y="211.8" font-size="6"><tspan x="1359">the vet</tspan><tspan x="1359" dy="7.2">and the</tspan><tspan x="1359" dy="7.2">internet</tspan></text>
<text class="n" x="1389" y="214" font-size="4.2"><tspan x="1389">Internet and</tspan><tspan x="1389" dy="5">bringing her</tspan><tspan x="1389" dy="5">to the vet</tspan></text>
<text class="h" x="1346" y="252">the internet, other cat owners, then vet</text>
<rect class="s t" x="1345" y="259" width="28" height="28"/><rect class="s c" x="1382" y="259" width="28" height="28"/><rect class="s c" x="1415" y="259" width="28" height="28"/>
<text class="h" x="1461" y="276"><tspan x="1461">internet, observing,</tspan><tspan x="1461" dy="9.5">gut feelings, then vet</tspan></text>
<rect class="s c" x="1477" y="292" width="28" height="28"/>
<text class="h" x="1346" y="309">observe first, then vet</text>
<rect class="s c" x="1345" y="316" width="28" height="28"/>
<text class="n" x="1359" y="324.6" font-size="4.5"><tspan x="1359">Observe</tspan><tspan x="1359" dy="5.4">them.</tspan><tspan x="1359" dy="5.4">Bring to vet.</tspan></text>
<text class="h" x="1464" y="344"><tspan x="1464">medical cat</tspan><tspan x="1464" dy="9.5">books/internet, then vet</tspan></text>
<rect class="s c" x="1483" y="361" width="28" height="28"/>
<text class="h" x="1344" y="363"><tspan x="1344">went to blue pearl for emergency,</tspan><tspan x="1344" dy="9.5">then cat doctor (after opening)</tspan></text>
<rect class="s c" x="1345" y="380" width="28" height="28"/>
<text class="h" x="1345" y="427"><tspan x="1345">cat doctor first, then ask family vet,</tspan><tspan x="1345" dy="9.5">another doctors place, then look online</tspan></text>
<rect class="s c" x="1345" y="442" width="28" height="28"/>
<rect class="s o" x="1345" y="491" width="51" height="28"/><rect class="s o" x="1406" y="491" width="51" height="28"/>
<text class="n" x="1370.5" y="499.6" font-size="4.5"><tspan x="1370.5">Clients claim that</tspan><tspan x="1370.5" dy="5.4">they call their vet</tspan><tspan x="1370.5" dy="5.4">for answers</tspan></text>
<text class="n" x="1431.5" y="502.3" font-size="4.5"><tspan x="1431.5">Others say</tspan><tspan x="1431.5" dy="5.4">internet, then vet</tspan></text>
</g>

<g id="why-continue">
<rect x="1557" y="73" width="213" height="466" fill="#e4e4e4"/>
<rect class="s w" x="1564" y="82" width="72" height="39"/>
<text class="q" x="1600" y="95" font-size="6"><tspan x="1600">Why Do You Continue</tspan><tspan x="1600" dy="8.5">Bringing Your Cat To</tspan><tspan x="1600" dy="8.5">The Cat Doctor</tspan></text>
<text class="h" x="1567" y="145">quality of care</text>
<rect class="s c" x="1564" y="153" width="28" height="28"/><rect class="s c" x="1594" y="153" width="28" height="28"/><rect class="s c" x="1624" y="153" width="28" height="28"/><rect class="s c" x="1654" y="153" width="28" height="28"/><rect class="s c" x="1686" y="153" width="28" height="28"/><rect class="s c" x="1716" y="153" width="28" height="28"/>
<text class="n" x="1578" y="163.7" font-size="5.5"><tspan x="1578">Excellent</tspan><tspan x="1578" dy="6.6">care</tspan></text>
<text class="n" x="1638" y="161" font-size="5"><tspan x="1638">Everyone</tspan><tspan x="1638" dy="6">is</tspan><tspan x="1638" dy="6">qualified</tspan></text>
<text class="n" x="1668" y="164" font-size="5"><tspan x="1668">Fabulous</tspan><tspan x="1668" dy="6">care</tspan></text>
<text class="n" x="1700" y="163.1" font-size="6.5"><tspan x="1700">Quality</tspan><tspan x="1700" dy="7.8">of care</tspan></text>
<text class="n" x="1730" y="167" font-size="7">quality</text>
<rect class="s c" x="1564" y="187" width="28" height="28"/><rect class="s c" x="1594" y="187" width="28" height="28"/><rect class="s c" x="1627" y="187" width="28" height="28"/>
<text class="n" x="1578" y="196.2" font-size="8"><tspan x="1578">their</tspan><tspan x="1578" dy="9.6">care</tspan></text>
<text class="n" x="1608" y="197.1" font-size="6.5"><tspan x="1608">Great</tspan><tspan x="1608" dy="7.8">service</tspan></text>
<text class="h" x="1673" y="223">environment</text>
<text class="h" x="1563" y="240">feline focus</text>
<rect class="s c" x="1641" y="228" width="28" height="28"/><rect class="s c" x="1673" y="228" width="28" height="28"/><rect class="s c" x="1706" y="228" width="28" height="28"/><rect class="s c" x="1736" y="228" width="28" height="28"/>
<text class="n" x="1655" y="242" font-size="6">Comfort</text>
<text class="n" x="1720" y="239.7" font-size="3.8"><tspan x="1720">comfortable</tspan><tspan x="1720" dy="4.6">environment</tspan></text>
<text class="n" x="1750" y="239.7" font-size="3.8"><tspan x="1750">calming</tspan><tspan x="1750" dy="4.6">environment</tspan></text>
<rect class="s c" x="1564" y="245" width="28" height="28"/><rect class="s c" x="1594" y="245" width="28" height="28"/>
<rect class="s c" x="1641" y="259" width="28" height="28"/><rect class="s c" x="1673" y="259" width="28" height="28"/><rect class="s c" x="1706" y="259" width="28" height="28"/>
<text class="n" x="1655" y="270.4" font-size="4.3"><tspan x="1655">Calm</tspan><tspan x="1655" dy="5.2">environment</tspan></text>
<text class="n" x="1720" y="273" font-size="9">Clean</text>
<text class="h" x="1567" y="300">the doctors</text>
<rect class="s c" x="1564" y="308" width="28" height="28"/><rect class="s c" x="1597" y="308" width="28" height="28"/><rect class="s c" x="1630" y="308" width="28" height="28"/><rect class="s c" x="1663" y="308" width="28" height="28"/><rect class="s c" x="1693" y="308" width="28" height="28"/><rect class="s c" x="1723" y="308" width="28" height="28"/>
<text class="n" x="1677" y="317.8" font-size="7"><tspan x="1677">The</tspan><tspan x="1677" dy="8.4">Doctors</tspan></text>
<text class="n" x="1707" y="319" font-size="5"><tspan x="1707">Vet knows</tspan><tspan x="1707" dy="6">cats</tspan></text>
<text class="n" x="1737" y="316" font-size="5"><tspan x="1737">vet has</tspan><tspan x="1737" dy="6">her own</tspan><tspan x="1737" dy="6">cats</tspan></text>
<rect class="s c" x="1564" y="340" width="28" height="28"/><rect class="s c" x="1597" y="340" width="28" height="28"/><rect class="s c" x="1630" y="340" width="28" height="28"/><rect class="s c" x="1663" y="340" width="28" height="28"/>
<text class="n" x="1611" y="348.9" font-size="8.5"><tspan x="1611">Smart</tspan><tspan x="1611" dy="10.2">vets</tspan></text>
<text class="n" x="1677" y="351.1" font-size="4.8"><tspan x="1677">Experience</tspan><tspan x="1677" dy="5.8">of doctors</tspan></text>
<text class="h" x="1564" y="394">convenience</text>
<text class="h" x="1627" y="394">location</text>
<text class="h" x="1683" y="394">knowledge</text>
<rect class="s c" x="1564" y="397" width="28" height="28"/><rect class="s c" x="1627" y="397" width="28" height="28"/><rect class="s c" x="1683" y="397" width="28" height="28"/><rect class="s c" x="1715" y="397" width="28" height="28"/>
<text class="n" x="1578" y="411" font-size="4">convenience</text>
<text class="n" x="1641" y="405" font-size="5"><tspan x="1641">proximity</tspan><tspan x="1641" dy="6">to my</tspan><tspan x="1641" dy="6">house</tspan></text>
<text class="n" x="1729" y="408.1" font-size="4.8"><tspan x="1729">Great</tspan><tspan x="1729" dy="5.8">knowledge</tspan></text>
<text class="h" x="1567" y="445">staff</text>
<rect class="s c" x="1567" y="449" width="28" height="28"/><rect class="s c" x="1597" y="449" width="28" height="28"/><rect class="s c" x="1627" y="449" width="28" height="28"/><rect class="s c" x="1657" y="449" width="28" height="28"/><rect class="s c" x="1687" y="449" width="28" height="28"/>
<text class="n" x="1611" y="458.2" font-size="8"><tspan x="1611">Kind</tspan><tspan x="1611" dy="9.6">staff</tspan></text>
<text class="n" x="1671" y="460" font-size="5"><tspan x="1671">Everyone</tspan><tspan x="1671" dy="6">is friendly</tspan></text>
<text class="h" x="1567" y="500">pet insurance</text>
<rect class="s c" x="1567" y="504" width="28" height="28"/><rect class="s c" x="1686" y="504" width="28" height="28"/><rect class="s c" x="1736" y="504" width="28" height="28"/>
<text class="n" x="1750" y="512.6" font-size="4.5"><tspan x="1750">Discussion</tspan><tspan x="1750" dy="5.4">of costs in</tspan><tspan x="1750" dy="5.4">advance</tspan></text>
<rect class="s p" x="1568" y="549" width="51" height="28"/>
<text class="n" x="1593.5" y="556.55" font-size="3.6"><tspan x="1593.5">Quality of care, great</tspan><tspan x="1593.5" dy="4.3">environment, and the</tspan><tspan x="1593.5" dy="4.3">doctors are why they</tspan><tspan x="1593.5" dy="4.3">stay</tspan></text>
</g>
</svg>
